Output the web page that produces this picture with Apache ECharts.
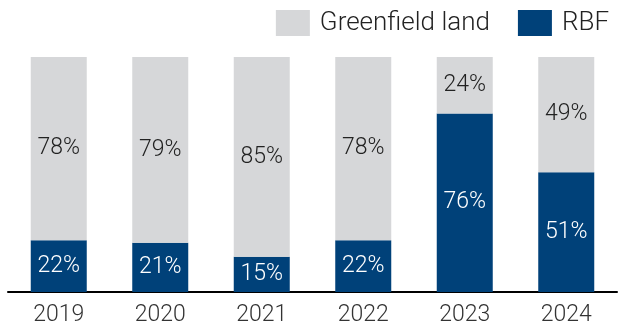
<!DOCTYPE html>
<html>
<head>
<meta charset="utf-8">
<script src="https://cdn.jsdelivr.net/npm/echarts@6/dist/echarts.min.js"></script>
<style>
  html, body { margin: 0; padding: 0; background: #fff; }
  #chart { width: 628px; height: 327px; }
</style>
</head>
<body>
<div id="chart"></div>
<script>
const years = ['2019', '2020', '2021', '2022', '2023', '2024'];
const rbf = [22, 21, 15, 22, 76, 51];
const greenfield = [78, 79, 85, 78, 24, 49];

const FONT = 'Roboto';
const WEIGHT = 300;
const chart = echarts.init(document.getElementById('chart'));

chart.setOption({
  animation: false,
  textStyle: { fontFamily: FONT, fontWeight: WEIGHT },
  legend: {
    top: 5,
    right: 14,
    itemWidth: 34,
    itemHeight: 26,
    itemGap: 28,
    icon: 'rect',
    data: ['Greenfield land', 'RBF'],
    textStyle: { fontSize: 26, color: '#222', fontFamily: FONT, fontWeight: WEIGHT, padding: [0, 0, 0, 5] }
  },
  grid: { left: 8, right: 11, top: 57, bottom: 35, containLabel: false },
  xAxis: {
    type: 'category',
    data: years,
    axisLine: { lineStyle: { color: '#000', width: 2 } },
    axisTick: { show: false },
    axisLabel: { fontSize: 23, color: '#333', margin: 12, fontFamily: FONT, fontWeight: WEIGHT }
  },
  yAxis: { type: 'value', min: 0, max: 100, show: false, splitLine: { show: false } },
  series: [
    {
      name: 'RBF',
      type: 'bar',
      stack: 'total',
      barWidth: 56,
      data: rbf,
      itemStyle: { color: '#004179' },
      label: {
        show: true, position: 'inside', formatter: '{c}%',
        color: '#fff', fontSize: 23, fontFamily: FONT, fontWeight: WEIGHT
      }
    },
    {
      name: 'Greenfield land',
      type: 'bar',
      stack: 'total',
      barWidth: 56,
      data: greenfield,
      itemStyle: { color: '#d6d7d9' },
      label: {
        show: true, position: 'inside', formatter: '{c}%',
        color: '#222', fontSize: 23, fontFamily: FONT, fontWeight: WEIGHT
      }
    }
  ]
});
</script>
</body>
</html>
